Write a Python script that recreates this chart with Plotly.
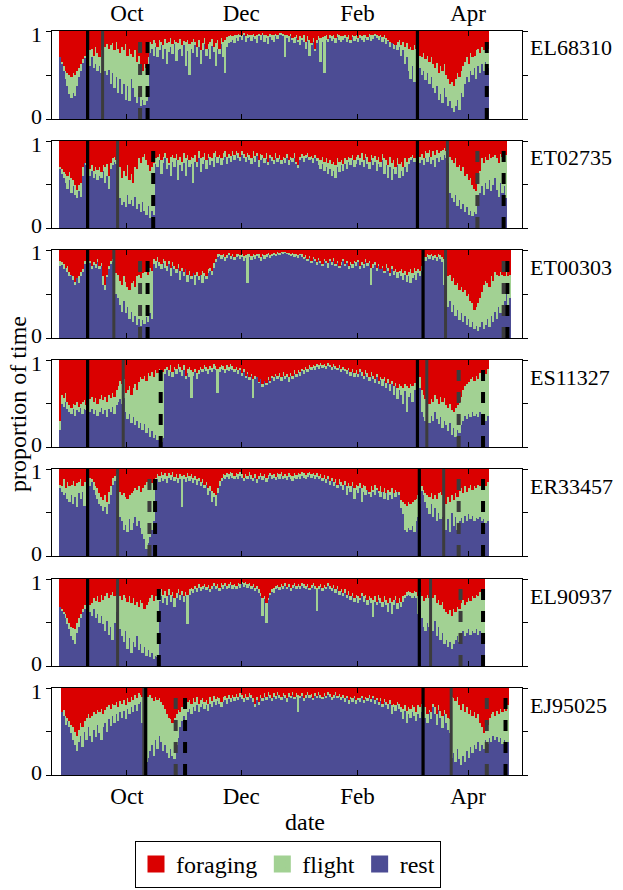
import pandas as pd
import plotly.graph_objects as go


def parse(s):
    return [int(v) for v in s.split()]


# ---------------- data (percent of each day) ----------------
bird_ids = ["EL68310", "ET02735", "ET00303", "ES11327", "ER33457", "EL90937", "EJ95025"]
first_days = ["2010-08-26", "2010-08-26", "2010-08-26", "2010-08-26",
              "2010-08-26", "2010-08-26", "2010-08-27"]
month_ticks = ["2010-10-01", "2010-12-01", "2011-02-01", "2011-04-01"]
month_labels = ["Oct", "Dec", "Feb", "Apr"]
date_window = ["2010-08-22", "2011-04-29 19:00"]
y_ticks = [0, 0.5, 1]
y_tick_labels = ["0", "", "1"]
behaviours = ["rest", "flight", "foraging"]

rest_EL68310 = parse("""70 62 55 45 38 28 24 30 26 38 48 55 64 70 72
66 60 70 58 62 55 60 52 50
55 50 56 40 52 35 48 30 45 28 40 22 38 20 45 35 25 18 30 15 22 16 20 25
75 80 72 82 70 78 84 68 80 62 76 82 74 85 66 78 80 72 84 60 77 50 80 75 84 70 82 62 78 85 72 80 68 83 76 60 80 74 85 70 52 82 86
88 90 86 92 89 93 90 95 88 92 94 89 93 91 86 94 90 95 88 92 85 93 90 87 94 91 95 96 94 70 92 88 94 90 86 92 88 84 90 87 80 89 72 85 88 78 86 90 65 88 52 90 87 92 89 91 86 93 90 88
90 92 88 91 86 93 89 91 87 92 90 88 92 90 93 89 91 94 92 90 93 88 91 85 89 82 86 80 84 78 82 72 78 62 70 55 45 60 42 50 48
58 50 55 44 52 40 48 35 30 38 22 28 18 35 25 15 20 12 8 15 22 10 30 25 40 48 42 55 50 58 45 60 52 62 55 65 58""")
forage_EL68310 = parse("""30 35 40 45 48 50 52 48 50 45 42 38 32 28 26
25 22 20 28 18 25 30 22 20
18 15 20 16 14 22 12 20 25 18 22 15 28 20 26 30 22 35 28 40 45 38 42 30
12 15 10 14 18 10 12 16 9 14 12 8 15 10 12 14 9 16 11 12 10 15 13 9 12 18 10 22 14 8 20 15 12 9 18 14 10 20 8 12 10 7 6
5 6 4 5 3 4 5 2 6 3 4 5 3 6 4 3 5 2 5 4 6 3 5 4 3 5 2 2 3 4 5 6 3 8 7 5 10 6 8 5 12 6 10 14 8 20 10 6 8 7 6 5 9 5 6 4 8 3 5 6
6 4 7 5 10 4 6 5 8 4 6 5 4 7 3 5 4 3 5 6 4 7 5 8 10 12 18 15 22 12 10 16 12 18 14 20 18 22 16 20 22
28 30 25 32 28 35 30 38 42 36 48 40 45 38 50 55 60 58 62 55 48 52 45 40 35 30 38 25 30 28 22 20 25 18 22 15 20""")

rest_ET02735 = parse("""68 62 58 52 45 55 40 48 38 35 42 36 60 75 72
64 60 66 58 62 55 60 57 65 52 60 45 68 72 76 74 70
35 26 30 24 38 28 32 25 36 22 28 18 30 20 15 25 12 20 15
74 70 78 62 75 80 68 72 60 76 70 78 55 72 66 75 60 78 70 74 52 76 70 80 64 74 78 68 80 72 77 70 82 75 80 72 78 82 74 80 76 83 78 84 80 77 84
80 76 82 78 74 80 76 83 70 78 81 75 79 72 80 77 74 81 76 79 73 78 75 80 72 78 76 80 74 70 78 81 76 80 82 78 79 75 80 77 72 68 74 65 70 62 68 60 66 58 70 64 72 66 74 68 76 72 78 70
74 78 72 76 70 80 74 68 78 72 76 66 74 70 78 62 72 58 70 55 68 62 72 58 66 60 70 64 74 78 80 76 78 80
75 78 72 80 76 82 74 78 70 80 76 82 78 84 80
75 40 35 30 38 25 32 22 28 18 24 15 20 14 18 16 35
40 48 38 52 45 55 42 50 58 44 36 52 40 48 35""")
forage_ET02735 = parse("""30 32 36 38 40 36 42 45 50 56 50 48 30 25 22
30 32 28 35 30 33 30 36 28 30 26 40 25 20 18 22 20
30 42 35 40 28 45 38 48 30 32 20 25 18 15 22 28 35 30 25
20 18 15 22 18 14 20 25 18 16 20 15 22 18 24 14 20 16 22 18 20 16 24 12 20 18 14 22 15 18 20 14 12 18 16 20 14 12 18 15 17 12 16 11 14 18 12
15 18 14 16 20 12 17 14 22 15 16 20 14 24 16 18 22 14 20 16 22 18 20 15 22 18 20 14 24 28 18 15 17 16 14 18 17 20 16 19 20 22 18 24 20 25 22 26 24 28 20 24 22 26 20 22 18 20 16 22
18 16 20 14 22 15 18 24 16 20 17 22 18 24 15 20 22 28 18 25 22 30 20 26 24 30 20 24 20 18 16 20 18 16
18 15 20 12 14 10 18 12 16 10 14 12 10 8 12
10 18 22 25 20 30 28 35 30 40 38 45 42 50 55 58 40
35 20 25 18 22 15 20 18 16 20 25 15 18 14 16""")

rest_ET00303 = parse("""82 84 78 80 75 70 72 66 60 68 62 70 75 84 88
82 85 78 84 80 86 78 82 60 55 70 78 84 86
56 50 45 38 30 42 28 35 22 30 18 25 15 22 14 20 16 24 18 28 22
84 80 86 82 78 85 80 76 84 70 82 78 74 80 66 76 70 78 64 72 68 74 60 70 66 72 62 70 68 74 76 72 80 86
92 94 90 93 88 92 95 90 93 89 92 94 90 93 88 91 62 92 89 93 90 94 91 88 93 90 92 94 91 93 95 94 96 95 97 96 97 96 95
94 95 93 94 92 95 93 90 92 88 91 86 90 88 84 89 86 82 88 85 80 87 84 88 82 86 80 84 87 82 86 78 84 80 85 82 86 78 84 80 86 82 85 60 80 84 76 82 78 80 74 80 76 70 78 72 76 68 74 70 66 72 64 70 62 68 72 66 74 70 76
90 88 92 90 93 89 91 88 92 90 86 60
40 35 42 30 38 25 32 20 28 18 25 15 22 12 18 10 14 8 12 18 10 15 22 12 25 18 30 22 35 28 38 42 50 38 45""")
forage_ET00303 = parse("""12 14 16 20 18 25 28 30 36 32 30 25 22 12 8
14 12 18 14 16 10 18 15 30 40 28 18 12 10
22 26 28 35 40 30 36 42 45 38 35 42 30 28 32 26 25 22 28 20 24
10 12 8 14 16 10 12 18 12 20 14 18 22 16 24 20 25 22 28 24 30 26 28 25 30 28 24 26 30 22 20 24 15 10
5 4 6 5 8 6 3 7 4 8 5 4 6 5 7 6 5 4 7 5 6 4 5 8 4 6 5 3 6 4 3 4 2 3 2 2 2 3 3
4 3 5 4 6 4 5 8 6 10 7 12 8 10 14 9 12 16 10 12 15 10 14 9 16 12 18 14 10 16 12 18 14 16 12 14 11 18 14 16 10 15 12 20 16 14 20 16 22 18 24 16 20 26 18 24 22 25 24 22 26 24 28 25 22 26 20 24 22 24 18
6 8 5 6 4 7 6 8 5 6 8 10
25 30 28 35 32 40 38 45 42 48 45 52 50 58 60 68 65 60 55 48 40 35 38 42 30 35 25 28 30 25 28 30 25 30 28""")

rest_ES11327 = parse("""20 50 46 52 44 40 38 44 36 42 40 45 38 44 42
46 40 44 38 42 36 40 45 38 42 35 44 40 46 38 48 52 55 50 56
40 32 38 28 35 25 30 22 28 20 26 16 22 12 18 10 14 8 12 6 10
84 88 82 86 80 88 84 90 86 82 88 78 85 80 56 82 86 78 84 88 86 90 87 84 89 86 90 88 62 86 90 88 85 89 87 90 88 86 89 84 88 82 86 80 84 78 82 56 78 80 74 78 70 76 72 78 74 80 76 82 78 80 76 82 78 80 75 82 78 84 80 85 82 87 84 88 86 90 88 91 89 92 90 93 91 93 90 94 92 89 92 90 88 91 86 89 87 84 88 82 86 80
84 80 86 82 78 84 80 76 82 78 74 80 72 78 70 76 68 74 64 72 60 70 55 66 60 50 64 40 58 62 52 66 72
55 68 40 35 30 38 28 36 30 40 32 26 35 22 30 25 18 28 14 22 12 20 16 25 30 36 32 38 34 40 36 38 34 40 35 38 30 36""")
forage_ES11327 = parse("""70 40 44 38 48 52 55 50 52 48 54 50 48 46 52
38 45 42 48 44 50 45 40 46 42 48 40 44 38 42 35 30 24 28 22
38 35 30 40 32 28 35 25 20 22 18 24 15 18 14 20 12 15 10 12 14
10 8 12 6 14 8 10 5 8 12 6 18 10 8 12 14 10 15 12 8 10 6 8 10 7 9 5 7 10 8 6 7 10 6 8 5 7 10 8 12 9 15 10 18 14 20 16 22 18 20 25 22 28 24 26 20 24 18 20 16 18 15 20 14 18 16 20 15 18 12 16 12 14 10 12 8 10 6 8 6 7 5 6 4 6 5 7 4 6 8 5 7 9 6 10 8 10 12 9 14 10 15
12 16 10 14 18 12 15 20 14 18 22 16 24 20 22 20 26 22 28 24 30 26 32 28 30 32 28 30 32 28 30 26 22
30 20 35 40 45 42 50 45 48 40 45 50 42 48 44 52 55 50 58 60 55 52 48 42 35 30 28 25 22 20 24 18 22 15 20 12 16 10""")

rest_ER33457 = parse("""78 74 70 72 66 62 70 60 68 56 72 66 74 58 76
84 80 86 76 70 66 60 58 52 56 48 60 70 82 86 88
52 45 40 30 36 28 42 30 38 45 35 40 32 25 20 8 15 22 30 40
82 88 85 90 86 89 84 90 87 91 86 88 84 89 56 88 85 90 86 88 84 87 82 86 80 84 78 82 70 75 62 68 58 72 80 86 90 88 91 89 92 90 88 91 89 92 90 86 90 88 92 89 86 90 84 88 91 87 90 85 89 92 88 90 87 91 89 92 88 90 87 91 89 86 90 88 91 89 92 90 88 91 93 90 92 89 91 88 90 86 89 84 88 82 86 80 84 78 83 80 76 82 70 78 74 80 66 76 72 78 62 74 70 76 72 68 74 70 76 72 68 74 66 72 64 70 66 72 68 74 70
55 48 30 28 32 30 35 28 40 45
60 75 70 62 55 48 60 45 55 40 50 42
45 38 30 42 28 50 35 45 30 40 44 38 46 40 48 42 46 40 44 42 45 40 43 38 40""")
forage_ER33457 = parse("""18 20 12 22 15 20 18 14 20 16 15 12 20 15 10
8 10 12 15 20 22 28 32 36 30 38 26 20 10 8 6
22 26 30 28 32 35 30 28 25 22 24 20 26 22 18 15 12 14 16 18
10 6 8 4 7 5 8 5 7 4 9 6 10 6 8 7 9 5 8 6 10 8 12 10 15 12 18 15 22 20 25 28 30 22 14 10 6 7 5 6 4 5 8 5 6 4 6 10 6 8 4 7 10 6 12 8 5 8 6 10 7 5 7 6 9 5 6 4 8 6 8 5 7 8 5 7 5 6 4 5 7 5 4 6 5 7 5 8 6 10 7 12 8 14 10 15 12 18 12 15 18 14 20 16 20 15 22 18 20 16 22 18 20 24 26 20 24 18 22 25 20 26 22 28 24 26 22 28 24 26 26
36 38 40 42 38 40 38 36 34 30
25 20 24 28 30 32 28 34 30 35 28 26
30 35 40 32 38 30 36 28 32 25 22 28 20 26 22 18 24 20 22 18 20 16 22 20 15""")

rest_EL90937 = parse("""68 64 60 55 48 42 35 30 25 38 45 55 62 65 70
50 62 58 65 55 60 50 58 48 40 52 36 45 30 50 62 58
42 35 28 40 20 32 15 28 22 34 18 25 15 22 12 18 10 15 8 12 10
75 80 72 78 70 82 74 80 68 78 84 76 82 74 80 48 82 86 84 88 85 90 86 88 91 87 90 85 89 92 88 90 86 91 89 92 88 90 93 89 91 88 92 90 94 91 93 90 92 88 91 86 89 84 80 58 78 50 76 82 86 84 88 90 87 91 89 92 88 91 86 90 92 88 91 89 93 90 88 91 87 90 92 89 63 88 91 86 90 88 92 89 86 90 84 88 82 86 80 84 78 82 76 80 74 78 72 76 80 74 78 70 76 72 56 74 70 76 72 68 74 70 62 72 60 70 76 66 72 68 74 78 80 82 80 78 80 78
60 70 55 45 40 50 45
48 40 52 35 45 30 38 25 30 22 28 20 25 30 34 28 36 40 35 38 42 36 40 38 42 36 40 38 35""")
forage_EL90937 = parse("""32 35 38 40 45 50 55 56 58 50 45 40 35 30 28
42 30 28 22 25 20 26 18 24 20 16 22 18 15 20 18 22
20 24 18 22 26 20 28 22 30 26 32 24 28 34 30 26 22 18 25 20 15
15 12 18 14 20 12 18 15 22 16 12 18 14 20 15 18 12 10 12 8 10 6 9 8 6 9 7 12 8 5 8 6 10 5 7 5 8 6 4 7 6 8 5 6 3 5 4 6 5 8 6 10 8 12 16 22 20 28 22 16 12 10 8 7 9 6 8 5 9 6 10 7 5 8 6 8 5 6 8 6 10 7 5 8 10 8 6 10 7 9 5 8 10 7 12 8 14 12 16 12 18 14 20 16 22 18 20 22 16 20 18 24 20 22 24 20 26 18 22 26 20 24 28 22 26 24 20 28 22 26 20 18 15 14 15 16 14 15
20 15 20 25 22 18 22
18 22 18 28 24 30 26 34 38 40 36 42 35 38 32 35 28 24 30 26 22 25 20 22 18 20 15 18 12""")

rest_EJ95025 = parse("""72 68 58 62 55 48 40 35 28 38 45 32 50 40 55 45 38 52 44 58 48 40 55 60 50 64 56 68 60 70 62 72 66 74 64 76 70 78 72 80 74 82 84
60 30 15 20 28 35 22 40 30 45 38 28 35 25 20 30 22 18 35 42 55 62 68 60
72 76 70 78 74 80 72 78 82 76 80 74 82 78 84 80 85 82 78 84 86 82 87 84 88 85 89 86 90 87 84 89 86 90 88 84 78 86 80 88 85 90 86 91 88 85 90 87 92 88 86 91 89 84 90 88 92 87 90 72 88 91 85 89 92 88 90 86 91 88 92 89 87 91 88 92 90 86 89 92 88 90 86 89 84 88 82 87 84 88 82 86 84 88 83 87 85 89 84 88 82 86 80 85 78 84 80 76 82 70 78 74 80 76 72 64 74 60 70 66 72 68 62
70 66 72 68 65 60 72 64 78 70 58 75 66 54 70 60 52 48
20 25 15 30 18 12 22 15 28 20 32 25 35 30 38 28 35 30 40 36 42 38 45 40 44 38 42 36 40 34 38""")
forage_EJ95025 = parse("""30 25 32 35 38 42 45 50 55 48 40 45 38 35 30 35 32 28 30 25 28 24 30 25 22 20 24 18 20 16 22 15 18 14 20 12 16 10 14 8 12 6 8
10 12 8 10 8 12 15 10 14 12 16 20 24 30 34 36 40 35 30 25 28 22 18 20
16 14 18 12 16 10 18 14 12 16 14 18 10 15 9 13 10 12 16 10 9 12 8 11 8 10 7 10 6 8 12 7 10 6 8 12 18 10 16 8 11 6 10 5 8 12 6 9 5 8 10 6 8 12 6 9 5 10 6 8 9 6 12 8 5 8 7 11 6 9 5 8 10 6 9 5 7 10 8 5 9 7 10 8 12 9 14 10 12 9 14 11 12 9 14 10 12 8 13 9 14 11 16 12 18 13 16 18 14 20 18 20 16 18 22 24 20 26 22 24 20 22 28
20 22 18 20 22 30 25 28 18 22 30 20 26 32 25 30 34 36
10 12 15 10 20 25 18 28 22 30 25 32 28 35 30 40 45 52 38 42 35 30 28 32 26 30 24 28 22 26 20""")

# event markers: A = solid black, B = solid grey, C = dashed grey, D = dashed black
events_EL68310 = [("2010-09-10", "A"), ("2010-09-18", "B"), ("2010-10-08", "C"), ("2010-10-12", "D"),
                  ("2011-03-05", "A"), ("2011-04-11", "D")]
events_ET02735 = [("2010-09-10", "A"), ("2010-09-26", "B"), ("2010-10-15", "D"),
                  ("2011-03-05", "A"), ("2011-03-21", "B"), ("2011-04-06", "C"), ("2011-04-20", "D")]
events_ET00303 = [("2010-09-10", "A"), ("2010-09-24", "B"), ("2010-10-08", "C"), ("2010-10-12", "D"),
                  ("2011-03-08", "A"), ("2011-03-20", "B"), ("2011-04-20", "C"), ("2011-04-22", "D")]
events_ES11327 = [("2010-09-10", "A"), ("2010-09-29", "B"), ("2010-10-19", "D"),
                  ("2011-03-05", "A"), ("2011-03-10", "B"), ("2011-03-27", "C"), ("2011-04-09", "D")]
events_ER33457 = [("2010-09-10", "A"), ("2010-09-26", "B"), ("2010-10-13", "C"), ("2010-10-16", "D"),
                  ("2011-03-06", "A"), ("2011-03-19", "B"), ("2011-03-27", "C"), ("2011-04-09", "D")]
events_EL90937 = [("2010-09-10", "A"), ("2010-09-26", "B"), ("2010-10-18", "D"),
                  ("2011-03-06", "A"), ("2011-03-12", "B"), ("2011-03-28", "C"), ("2011-04-09", "D")]
events_EJ95025 = [("2010-10-10", "B"), ("2010-10-11", "A"), ("2010-10-27", "C"), ("2010-11-01", "D"),
                  ("2011-03-08", "A"), ("2011-03-23", "B"), ("2011-04-11", "C"), ("2011-04-21", "D")]

rest_all = [rest_EL68310, rest_ET02735, rest_ET00303, rest_ES11327, rest_ER33457, rest_EL90937, rest_EJ95025]
forage_all = [forage_EL68310, forage_ET02735, forage_ET00303, forage_ES11327, forage_ER33457, forage_EL90937, forage_EJ95025]
events_all = [events_EL68310, events_ET02735, events_ET00303, events_ES11327, events_ER33457, events_EL90937, events_EJ95025]

# ---------------- styling ----------------
FONT = "Liberation Serif"
COLORS = {"foraging": "#DA0000", "flight": "#A2D193", "rest": "#4C4C94"}
EVENT_STYLE = {
    "A": dict(color="#000000", width=3.2, dash="solid"),
    "B": dict(color="#3C3C3C", width=3.0, dash="solid"),
    "C": dict(color="#3C3C3C", width=4.0, dash="11px,11px"),
    "D": dict(color="#000000", width=4.0, dash="11px,11px"),
}

W, H = 623, 890
M_L, M_R, M_T, M_B = 52, 101, 31, 115
PH = H - M_T - M_B
PW = W - M_L - M_R
tops = [31, 141, 250, 360, 469, 579, 688]
bottoms = [119, 228, 338, 447, 556, 666, 775]
plot_bottom = H - M_B


def py(px):
    return (plot_bottom - px) / PH


fig = go.Figure()
layout = dict(
    width=W, height=H, autosize=False,
    margin=dict(l=M_L, r=M_R, t=M_T, b=M_B, pad=0, autoexpand=False),
    paper_bgcolor="white", plot_bgcolor="white",
    barmode="stack", bargap=0,
    font=dict(family=FONT, size=24, color="black"),
    showlegend=True,
    legend=dict(orientation="h", x=(288 - M_L) / PW, xanchor="center", y=py(841), yanchor="top",
                bordercolor="black", borderwidth=1, bgcolor="white",
                font=dict(family=FONT, size=24, color="black"),
                traceorder="normal", itemwidth=30, itemclick=False, itemdoubleclick=False),
)

shapes = []
annotations = []
for i, bid in enumerate(bird_ids):
    k = i + 1
    sfx = "" if k == 1 else str(k)
    rest = rest_all[i]
    forage = forage_all[i]
    n = min(len(rest), len(forage))
    dates = pd.date_range(first_days[i], periods=n, freq="D")
    r = [v / 100 for v in rest[:n]]
    f = [v / 100 for v in forage[:n]]
    fl = [max(0.0, 1 - a - b) for a, b in zip(r, f)]
    series = {"rest": r, "flight": fl, "foraging": f}
    for name in behaviours:
        fig.add_trace(go.Bar(
            x=dates, y=series[name], name=name,
            marker=dict(color=COLORS[name], line=dict(width=0)),
            width=86400000, offset=0, xaxis="x" + sfx, yaxis="y" + sfx,
            legendgroup=name, showlegend=False,
        ))
    layout["xaxis" + sfx] = dict(
        domain=[0, 1], anchor="y" + sfx, type="date", range=date_window,
        tickvals=month_ticks, ticktext=month_labels,
        ticks="inside", ticklen=5, tickwidth=1, tickcolor="black",
        showline=True, linecolor="black", linewidth=1, mirror="ticks",
        showgrid=False, zeroline=False,
        showticklabels=(k == 1 or k == 7), side=("top" if k == 1 else "bottom"),
        tickfont=dict(family=FONT, size=23, color="black"),
    )
    layout["yaxis" + sfx] = dict(
        domain=[py(bottoms[i]), py(tops[i])], anchor="x" + sfx, range=[0, 1],
        tickvals=y_ticks, showticklabels=False,
        ticks="outside", ticklen=5, tickwidth=1, tickcolor="black",
        showline=True, linecolor="black", linewidth=1, mirror="ticks",
        showgrid=False, zeroline=False,
    )
    # y tick labels, nudged slightly inwards (as in the original) so neighbouring panels' labels do not collide
    for v, lab in zip(y_ticks, y_tick_labels):
        if not lab:
            continue
        annotations.append(dict(text=lab, xref="paper", yref="y" + sfx + " domain",
                                x=-8 / PW, y=v, yshift=(-3 if v == 1 else 3),
                                xanchor="right", yanchor="middle", showarrow=False,
                                font=dict(family=FONT, size=22, color="black")))
    for d, kind in events_all[i]:
        st = EVENT_STYLE[kind]
        shapes.append(dict(type="line", xref="x" + sfx, yref="y" + sfx,
                           x0=d, x1=d, y0=0, y1=1, layer="above",
                           line=dict(color=st["color"], width=st["width"], dash=st["dash"])))
    annotations.append(dict(text=bid, xref="paper", yref="paper",
                            x=(528 - M_L) / PW, y=py(tops[i] + 17),
                            xanchor="left", yanchor="middle", showarrow=False,
                            font=dict(family=FONT, size=22, color="black")))

# legend entries (legend-only traces, so the swatches can be drawn larger)
for name in ["foraging", "flight", "rest"]:
    fig.add_trace(go.Bar(x=[None], y=[None], name=name, legendgroup=name, showlegend=True,
                         marker=dict(color=COLORS[name], line=dict(color=COLORS[name], width=5)),
                         xaxis="x", yaxis="y"))

annotations.append(dict(text="date", xref="paper", yref="paper",
                        x=(305 - M_L) / PW, y=py(822), xanchor="center", yanchor="middle",
                        showarrow=False, font=dict(family=FONT, size=24, color="black")))
annotations.append(dict(text="proportion of time", xref="paper", yref="paper", textangle=-90,
                        x=(18 - M_L) / PW, y=py(404), xanchor="center", yanchor="middle",
                        showarrow=False, font=dict(family=FONT, size=24, color="black")))

layout["shapes"] = shapes
layout["annotations"] = annotations
fig.update_layout(**layout)
# remove the browser's default 8px page margin so the 623x890 figure fills the window exactly
fig.write_html("out.html", config={"displayModeBar": False},
               post_script="document.body.style.margin='0px';")
